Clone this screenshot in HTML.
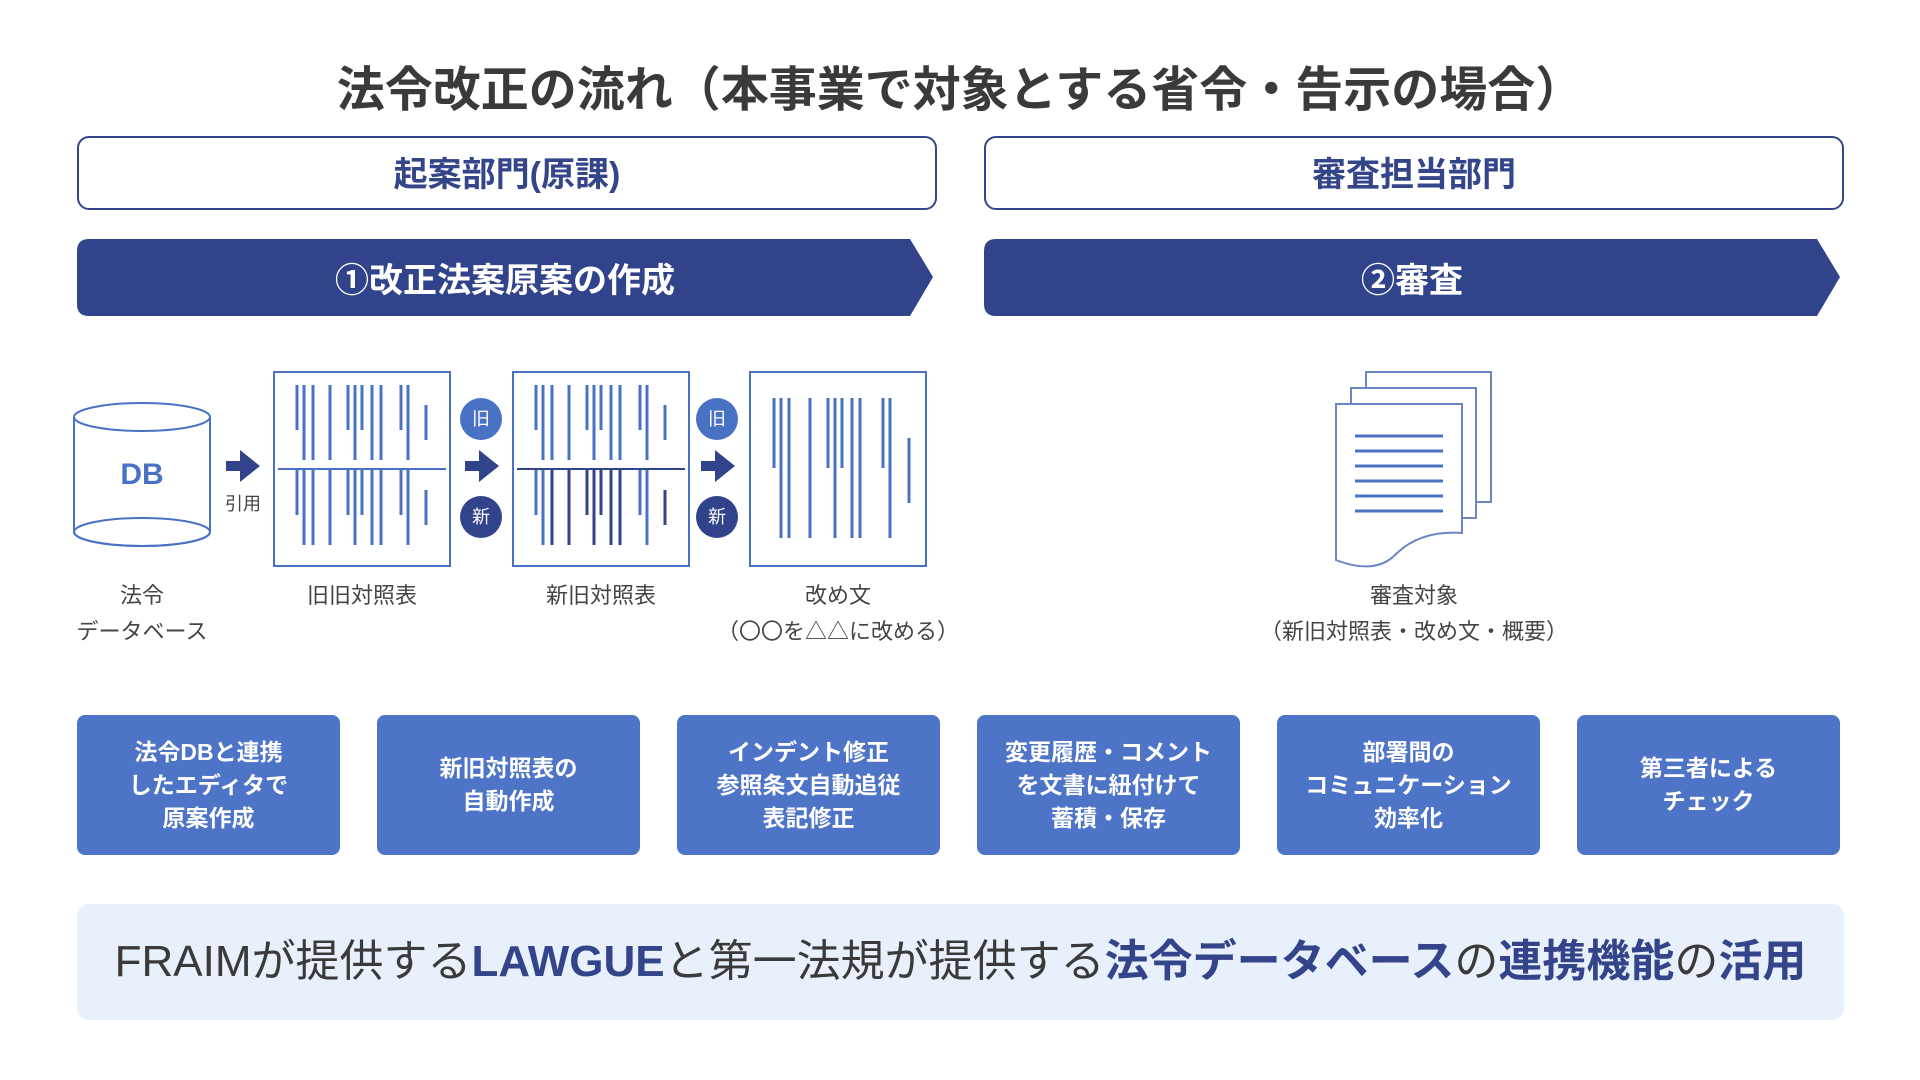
<!DOCTYPE html>
<html><head><meta charset="utf-8"><style>
body{margin:0;width:1920px;height:1080px;background:#fff;position:relative;font-family:"Liberation Sans","Noto Sans CJK JP",sans-serif;overflow:hidden}
.a{position:absolute}
.title{left:0;width:1920px;top:50px;text-align:center;font-size:48px;font-weight:bold;color:#3a3a3a}
.hb{top:136px;height:74px;border:2px solid #34458a;border-radius:12px;box-sizing:border-box;text-align:center;line-height:74px;font-size:34px;color:#34458a;font-weight:bold}
.lbl{font-size:22px;color:#444;text-align:center;line-height:36px}
.bx{top:715px;width:263px;height:140px;background:#4d74c6;border-radius:8px;color:#fff;font-weight:bold;font-size:23px;line-height:33px;display:flex;align-items:center;justify-content:center;text-align:center}
.ban{left:77px;top:904px;width:1767px;height:116px;background:#e8f1fb;border-radius:12px;text-align:center;line-height:116px;font-size:44px;color:#3a3a3a}
.ban b{color:#33448a}
</style></head><body>
<div class="a title">法令改正の流れ（本事業で対象とする省令・告示の場合）</div>
<div class="a hb" style="left:77px;width:860px">起案部門(原課)</div>
<div class="a hb" style="left:984px;width:860px">審査担当部門</div>
<svg class="a" style="left:0;top:0" width="1920" height="1080">
<path d="M89 239 H910 L933 277 L910 316 H89 Q77 316 77 304 V251 Q77 239 89 239Z" fill="#31438a"/>
<path d="M996 239 H1817 L1840 277 L1817 316 H996 Q984 316 984 304 V251 Q984 239 996 239Z" fill="#31438a"/>
<text x="505" y="292" font-size="34" font-weight="bold" fill="#fff" text-anchor="middle" font-family="Liberation Sans,Noto Sans CJK JP,sans-serif">①改正法案原案の作成</text>
<text x="1412" y="292" font-size="34" font-weight="bold" fill="#fff" text-anchor="middle" font-family="Liberation Sans,Noto Sans CJK JP,sans-serif">②審査</text>
<g fill="none" stroke="#4a72c4" stroke-width="2">
<path d="M74 417 V532 A68 14 0 0 0 210 532 V417"/>
<ellipse cx="142" cy="417" rx="68" ry="14" fill="#fff"/>
<ellipse cx="142" cy="532" rx="68" ry="14"/>
</g>
<text x="142" y="484" font-size="30" font-weight="bold" fill="#4a72c4" text-anchor="middle" font-family="Liberation Sans,sans-serif">DB</text>
<g fill="#31438a">
<path d="M226 461 h14 v-11 l20 16 l-20 16 v-11 h-14z"/>
<path d="M465 461 h14 v-11 l20 16 l-20 16 v-11 h-14z"/>
<path d="M701 461 h14 v-11 l20 16 l-20 16 v-11 h-14z"/>
</g>
<text x="243" y="510" font-size="18" fill="#444" text-anchor="middle" font-family="Liberation Sans,Noto Sans CJK JP,sans-serif">引用</text>
<g fill="#fff" stroke="#4a72c4" stroke-width="2">
<rect x="274" y="372" width="176" height="194"/>
<rect x="513" y="372" width="176" height="194"/>
<rect x="750" y="372" width="176" height="194"/>
</g>
<line x1="278" y1="469" x2="446" y2="469" stroke="#4a72c4" stroke-width="2"/>
<line x1="517" y1="469" x2="685" y2="469" stroke="#31438a" stroke-width="2"/>
<g stroke="#4a72c4" stroke-width="3">
<path d="M297 385v45M304 385v75M313 385v75M330 385v75M348 385v45M355 385v75M362 385v45M372 385v75M381 385v75M401 385v45M408 385v75M426 405v35"/>
<path d="M297 470v45M304 470v75M313 470v75M330 470v75M348 470v45M355 470v75M362 470v45M372 470v75M381 470v75M401 470v45M408 470v75M426 490v35"/>
<path d="M536 385v45M543 385v75M552 385v75M569 385v75M587 385v45M594 385v75M601 385v45M611 385v75M620 385v75M640 385v45M647 385v75M665 405v35M536 470v45M543 470v75M640 470v45M647 470v75"/>
<path d="M774 398v70M781 398v140M789 398v140M810 398v140M828 398v70M835 398v140M842 398v70M852 398v140M860 398v140M883 398v70M890 398v140M909 438v65"/>
</g>
<g stroke="#31438a" stroke-width="3">
<path d="M552 470v75M569 470v75M587 470v45M594 470v75M601 470v45M611 470v75M620 470v75M665 490v35"/>
</g>
<g font-size="18" fill="#fff" text-anchor="middle" font-family="Noto Sans CJK JP,sans-serif">
<circle cx="481" cy="419" r="21" fill="#4a72c4"/><text x="481" y="425">旧</text>
<circle cx="481" cy="517" r="21" fill="#31438a"/><text x="481" y="523">新</text>
<circle cx="717" cy="419" r="21" fill="#4a72c4"/><text x="717" y="425">旧</text>
<circle cx="717" cy="517" r="21" fill="#31438a"/><text x="717" y="523">新</text>
</g>
<g fill="#fff" stroke="#6b86c4" stroke-width="2">
<rect x="1366" y="372" width="125" height="130"/>
<rect x="1351" y="388" width="125" height="130"/>
<path d="M1336 404 H1462 V533 Q1420 530 1395 555 Q1375 575 1336 560Z"/>
</g>
<g stroke="#4a72c4" stroke-width="3"><path d="M1355 436h88M1355 451h88M1355 466h88M1355 481h88M1355 496h88M1355 511h88"/></g>
</svg>
<div class="a lbl" style="left:42px;width:200px;top:578px">法令<br>データベース</div>
<div class="a lbl" style="left:262px;width:200px;top:578px">旧旧対照表</div>
<div class="a lbl" style="left:501px;width:200px;top:578px">新旧対照表</div>
<div class="a lbl" style="left:688px;width:300px;top:578px">改め文<br>（〇〇を△△に改める）</div>
<div class="a lbl" style="left:1214px;width:400px;top:578px">審査対象<br>（新旧対照表・改め文・概要）</div>
<div class="a bx" style="left:77px">法令DBと連携<br>したエディタで<br>原案作成</div>
<div class="a bx" style="left:377px">新旧対照表の<br>自動作成</div>
<div class="a bx" style="left:677px">インデント修正<br>参照条文自動追従<br>表記修正</div>
<div class="a bx" style="left:977px">変更履歴・コメント<br>を文書に紐付けて<br>蓄積・保存</div>
<div class="a bx" style="left:1277px">部署間の<br>コミュニケーション<br>効率化</div>
<div class="a bx" style="left:1577px">第三者による<br>チェック</div>
<div class="a ban">FRAIMが提供する<b>LAWGUE</b>と第一法規が提供する<b>法令データベース</b>の<b>連携機能</b>の<b>活用</b></div>
</body></html>
